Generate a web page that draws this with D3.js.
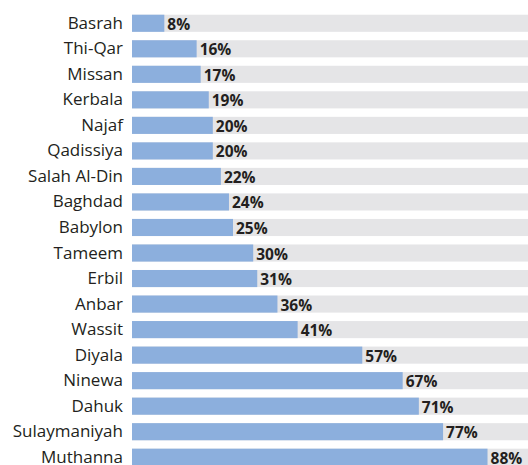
<!DOCTYPE html>
<html><head><meta charset="utf-8">
<script src="https://cdn.jsdelivr.net/npm/d3@7"></script>
<style>body{margin:0;background:#fff}svg{display:block}</style>
</head><body>
<script>
const categories = ["Basrah","Thi-Qar","Missan","Kerbala","Najaf","Qadissiya","Salah Al-Din","Baghdad","Babylon","Tameem","Erbil","Anbar","Wassit","Diyala","Ninewa","Dahuk","Sulaymaniyah","Muthanna"];
const values = [8,16,17,19,20,20,22,24,25,30,31,36,41,57,67,71,77,88];

const W = 528, H = 465;
const svg = d3.select("body").append("svg").attr("width", W).attr("height", H);
const x = d3.scaleLinear().domain([0, 100]).range([132, 536]);
const y = d3.scaleBand().domain(categories).range([10.5, 470]).paddingInner(0.33).paddingOuter(0.165);

const g = svg.append("g");
g.selectAll("rect.bg").data(categories).join("rect")
  .attr("class","bg").attr("x", x(0)).attr("width", W - x(0))
  .attr("y", d => y(d)).attr("height", y.bandwidth()).attr("fill", "#e5e5e7");
g.selectAll("rect.bar").data(values).join("rect")
  .attr("class","bar").attr("x", x(0)).attr("width", d => x(d) - x(0))
  .attr("y", (d,i) => y(categories[i])).attr("height", y.bandwidth()).attr("fill", "#8cafdd");
g.selectAll("text.cat").data(categories).join("text")
  .attr("class","cat").attr("x", 123).attr("y", d => y(d) + y.bandwidth()/2 + 5.5)
  .attr("text-anchor","end").attr("font-family","Open Sans, sans-serif").attr("font-size", 17)
  .attr("fill","#231f20").text(d => d);
g.selectAll("text.val").data(values).join("text")
  .attr("class","val").attr("x", d => x(d) + 3).attr("y", (d,i) => y(categories[i]) + y.bandwidth()/2 + 6.5)
  .attr("font-family","Open Sans, sans-serif").attr("font-size", 15.5).attr("font-weight","bold")
  .attr("fill","#231f20").text(d => d + "%");
</script>
</body></html>
